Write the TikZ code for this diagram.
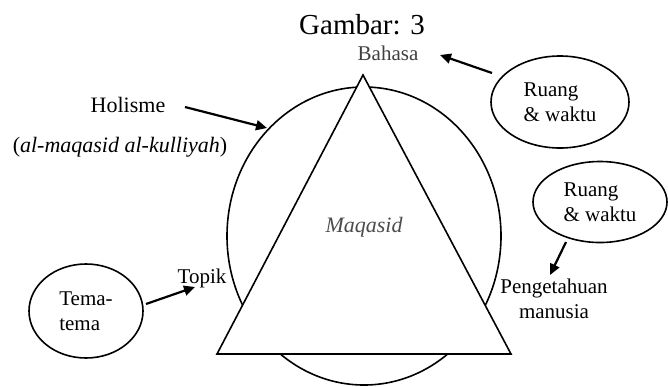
\documentclass[tikz,border=0pt]{standalone}
\usepackage{fontspec}
\setmainfont{Liberation Serif}
\usetikzlibrary{shapes.geometric,arrows.meta}
\tikzset{
  lbl/.style={inner sep=0pt, font=\fontsize{21}{25}\selectfont, align=center},
  bubble/.style={draw, ellipse, line width=1.6pt, inner sep=0pt, font=\fontsize{21}{25}\selectfont, align=left},
  pointer/.style={line width=2.2pt, -{Triangle[length=11pt,width=10pt]}},
  shapeline/.style={line width=1.6pt, line join=miter}
}
\begin{document}
\begin{tikzpicture}[x=1pt,y=-1pt]
\useasboundingbox (0,0) rectangle (668,386);
% big circle and triangle
\draw[shapeline] (364,236) ellipse [x radius=137pt, y radius=149pt];
\coordinate (apex) at (363,75);
\coordinate (bl) at (217,354);
\coordinate (br) at (511,354);
\draw[shapeline, fill=white] (apex) -- (bl) -- (br) -- cycle;
% texts
\node[lbl, font=\fontsize{29}{32}\selectfont] (title) at (362,25) {Gambar: 3};
\node[lbl, text=black!75] (bahasa) at (388,53) {Bahasa};
\node[lbl, font=\fontsize{22}{26}\selectfont] (holisme) at (128,105) {Holisme};
\node[lbl, font=\fontsize{22}{26}\selectfont] (kulliyah) at (120,147) {(\textit{al-maqasid al-kulliyah})};
\node[lbl, text=black!70, font=\fontsize{22}{26}\selectfont\itshape] (maqasid) at (364,227) {Maqasid};
\node[lbl] (pengetahuan) at (554,299) {Pengetahuan\\manusia};
\node[lbl] (topik) at (202,278) {Topik};
% bubbles
\node[bubble, minimum width=138pt, minimum height=92pt] (rw1) at (560,102) {Ruang\\\& waktu};
\node[bubble, minimum width=134pt, minimum height=81pt] (rw2) at (600,202) {Ruang\\\& waktu};
\node[bubble, minimum width=114pt, minimum height=94pt] (tema) at (86,311) {Tema-\\tema};
% arrows
\coordinate (hs) at (185,107); \coordinate (he) at (267,128);
\coordinate (bs) at (492,73);  \coordinate (be) at (440,55);
\coordinate (ts) at (146,304); \coordinate (te) at (195,287);
\coordinate (ps) at (566,242); \coordinate (pe) at (550,275);
\draw[pointer] (hs) -- (he);
\draw[pointer] (bs) -- (be);
\draw[pointer] (ts) -- (te);
\draw[pointer] (ps) -- (pe);
\end{tikzpicture}
\end{document}
